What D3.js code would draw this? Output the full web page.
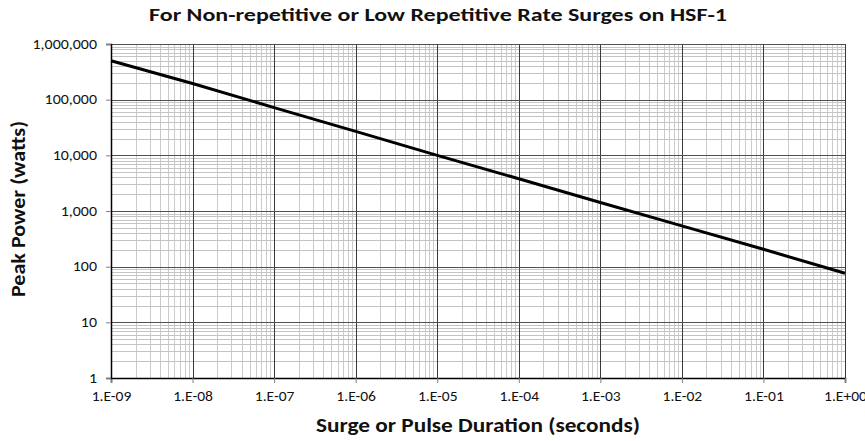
<!DOCTYPE html>
<html><head><meta charset="utf-8">
<script src="https://cdn.jsdelivr.net/npm/d3@7"></script>
<style>body{margin:0;background:#fff}svg{display:block}text{font-family:Carlito,Calibri,"Open Sans","Liberation Sans",sans-serif}</style>
</head><body><svg id="c" width="865" height="441"></svg>
<script>
const durations = [1e-9,1e-8,1e-7,1e-6,1e-5,1e-4,1e-3,1e-2,1e-1,1e0];
const peakPower = [500000,195000,72000,27000,10000,3800,1420,540,205,76];
const xTickLabels = ["1.E-09","1.E-08","1.E-07","1.E-06","1.E-05","1.E-04","1.E-03","1.E-02","1.E-01","1.E+00"];
const yTickValues = [1,10,100,1000,10000,100000,1000000];
const yTickLabels = ["1","10","100","1,000","10,000","100,000","1,000,000"];
const title = "For Non-repetitive or Low Repetitive Rate Surges on HSF-1";
const xTitle = "Surge or Pulse Duration (seconds)";
const yTitle = "Peak Power (watts)";

const svg = d3.select("#c");
const L=111,R=845,T=44,B=378;
const x = d3.scaleLog().domain([1e-9,1]).range([L,R]);
const y = d3.scaleLog().domain([1,1e6]).range([B,T]);

// widen text like the reference's rendering
function widen(sel, k){
  sel.each(function(){
    const w=this.getComputedTextLength();
    d3.select(this).attr("textLength",w*k).attr("lengthAdjust","spacingAndGlyphs");
  });
}

// minor grid
const xMinor=[],yMinor=[];
for(let e=-9;e<0;e++) for(let m=2;m<=9;m++) xMinor.push(m*Math.pow(10,e));
for(let e=0;e<6;e++) for(let m=2;m<=9;m++) yMinor.push(m*Math.pow(10,e));
const g=svg.append("g");
g.selectAll(".vm").data(xMinor).join("line").attr("x1",d=>Math.round(x(d))+0.5).attr("x2",d=>Math.round(x(d))+0.5).attr("y1",T).attr("y2",B).attr("stroke","#cbcbcb").attr("stroke-width",1);
g.selectAll(".hm").data(yMinor).join("line").attr("y1",d=>Math.round(y(d))+0.5).attr("y2",d=>Math.round(y(d))+0.5).attr("x1",L).attr("x2",R).attr("stroke","#c4c4c4").attr("stroke-width",1);
// major grid
g.selectAll(".vM").data(durations.slice(1)).join("line").attr("x1",d=>Math.round(x(d))+0.5).attr("x2",d=>Math.round(x(d))+0.5).attr("y1",T).attr("y2",B).attr("stroke","#3a3a3a").attr("stroke-width",1);
g.selectAll(".hM").data(yTickValues.slice(1)).join("line").attr("y1",d=>Math.round(y(d))+0.5).attr("y2",d=>Math.round(y(d))+0.5).attr("x1",L).attr("x2",R).attr("stroke","#505050").attr("stroke-width",1);

// axes
const xAxis = d3.axisBottom(x).tickValues(durations).tickFormat((d,i)=>xTickLabels[i]).tickSizeOuter(0).tickSize(5).tickPadding(8);
const gx = svg.append("g").attr("transform",`translate(0,${B})`).call(xAxis);
gx.select(".domain").attr("stroke","#000").attr("stroke-width",1.5);
gx.selectAll(".tick line").attr("stroke","#808080");
gx.selectAll("text").attr("font-size",13.5).attr("fill","#111").attr("font-family",null).call(widen,1.15);
const yAxis = d3.axisLeft(y).tickValues(yTickValues).tickFormat((d,i)=>yTickLabels[i]).tickSizeOuter(0).tickSize(5).tickPadding(9);
const gy = svg.append("g").attr("transform",`translate(${L},0)`).call(yAxis);
gy.select(".domain").attr("stroke","#000").attr("stroke-width",1.5);
gy.selectAll(".tick line").attr("stroke","#808080");
gy.selectAll("text").attr("font-size",13.5).attr("fill","#111").attr("font-family",null).call(widen,1.18);

// line
const line = d3.line().x((d,i)=>x(durations[i])).y(d=>y(d));
svg.append("path").datum(peakPower).attr("d",line).attr("fill","none").attr("stroke","#000").attr("stroke-width",3);

svg.append("text").attr("x",438).attr("y",21).attr("text-anchor","middle").attr("font-size",17).attr("font-weight","bold").attr("fill","#111")
  .attr("textLength",578).attr("lengthAdjust","spacingAndGlyphs").text(title);
svg.append("text").attr("x",478).attr("y",432).attr("text-anchor","middle").attr("font-size",20).attr("font-weight","bold").attr("fill","#111")
  .attr("textLength",324).attr("lengthAdjust","spacingAndGlyphs").text(xTitle);
svg.append("text").attr("transform","translate(25,209) rotate(-90)").attr("text-anchor","middle").attr("font-size",20).attr("font-weight","bold").attr("fill","#111")
  .attr("textLength",176).attr("lengthAdjust","spacingAndGlyphs").text(yTitle);
</script></body></html>
